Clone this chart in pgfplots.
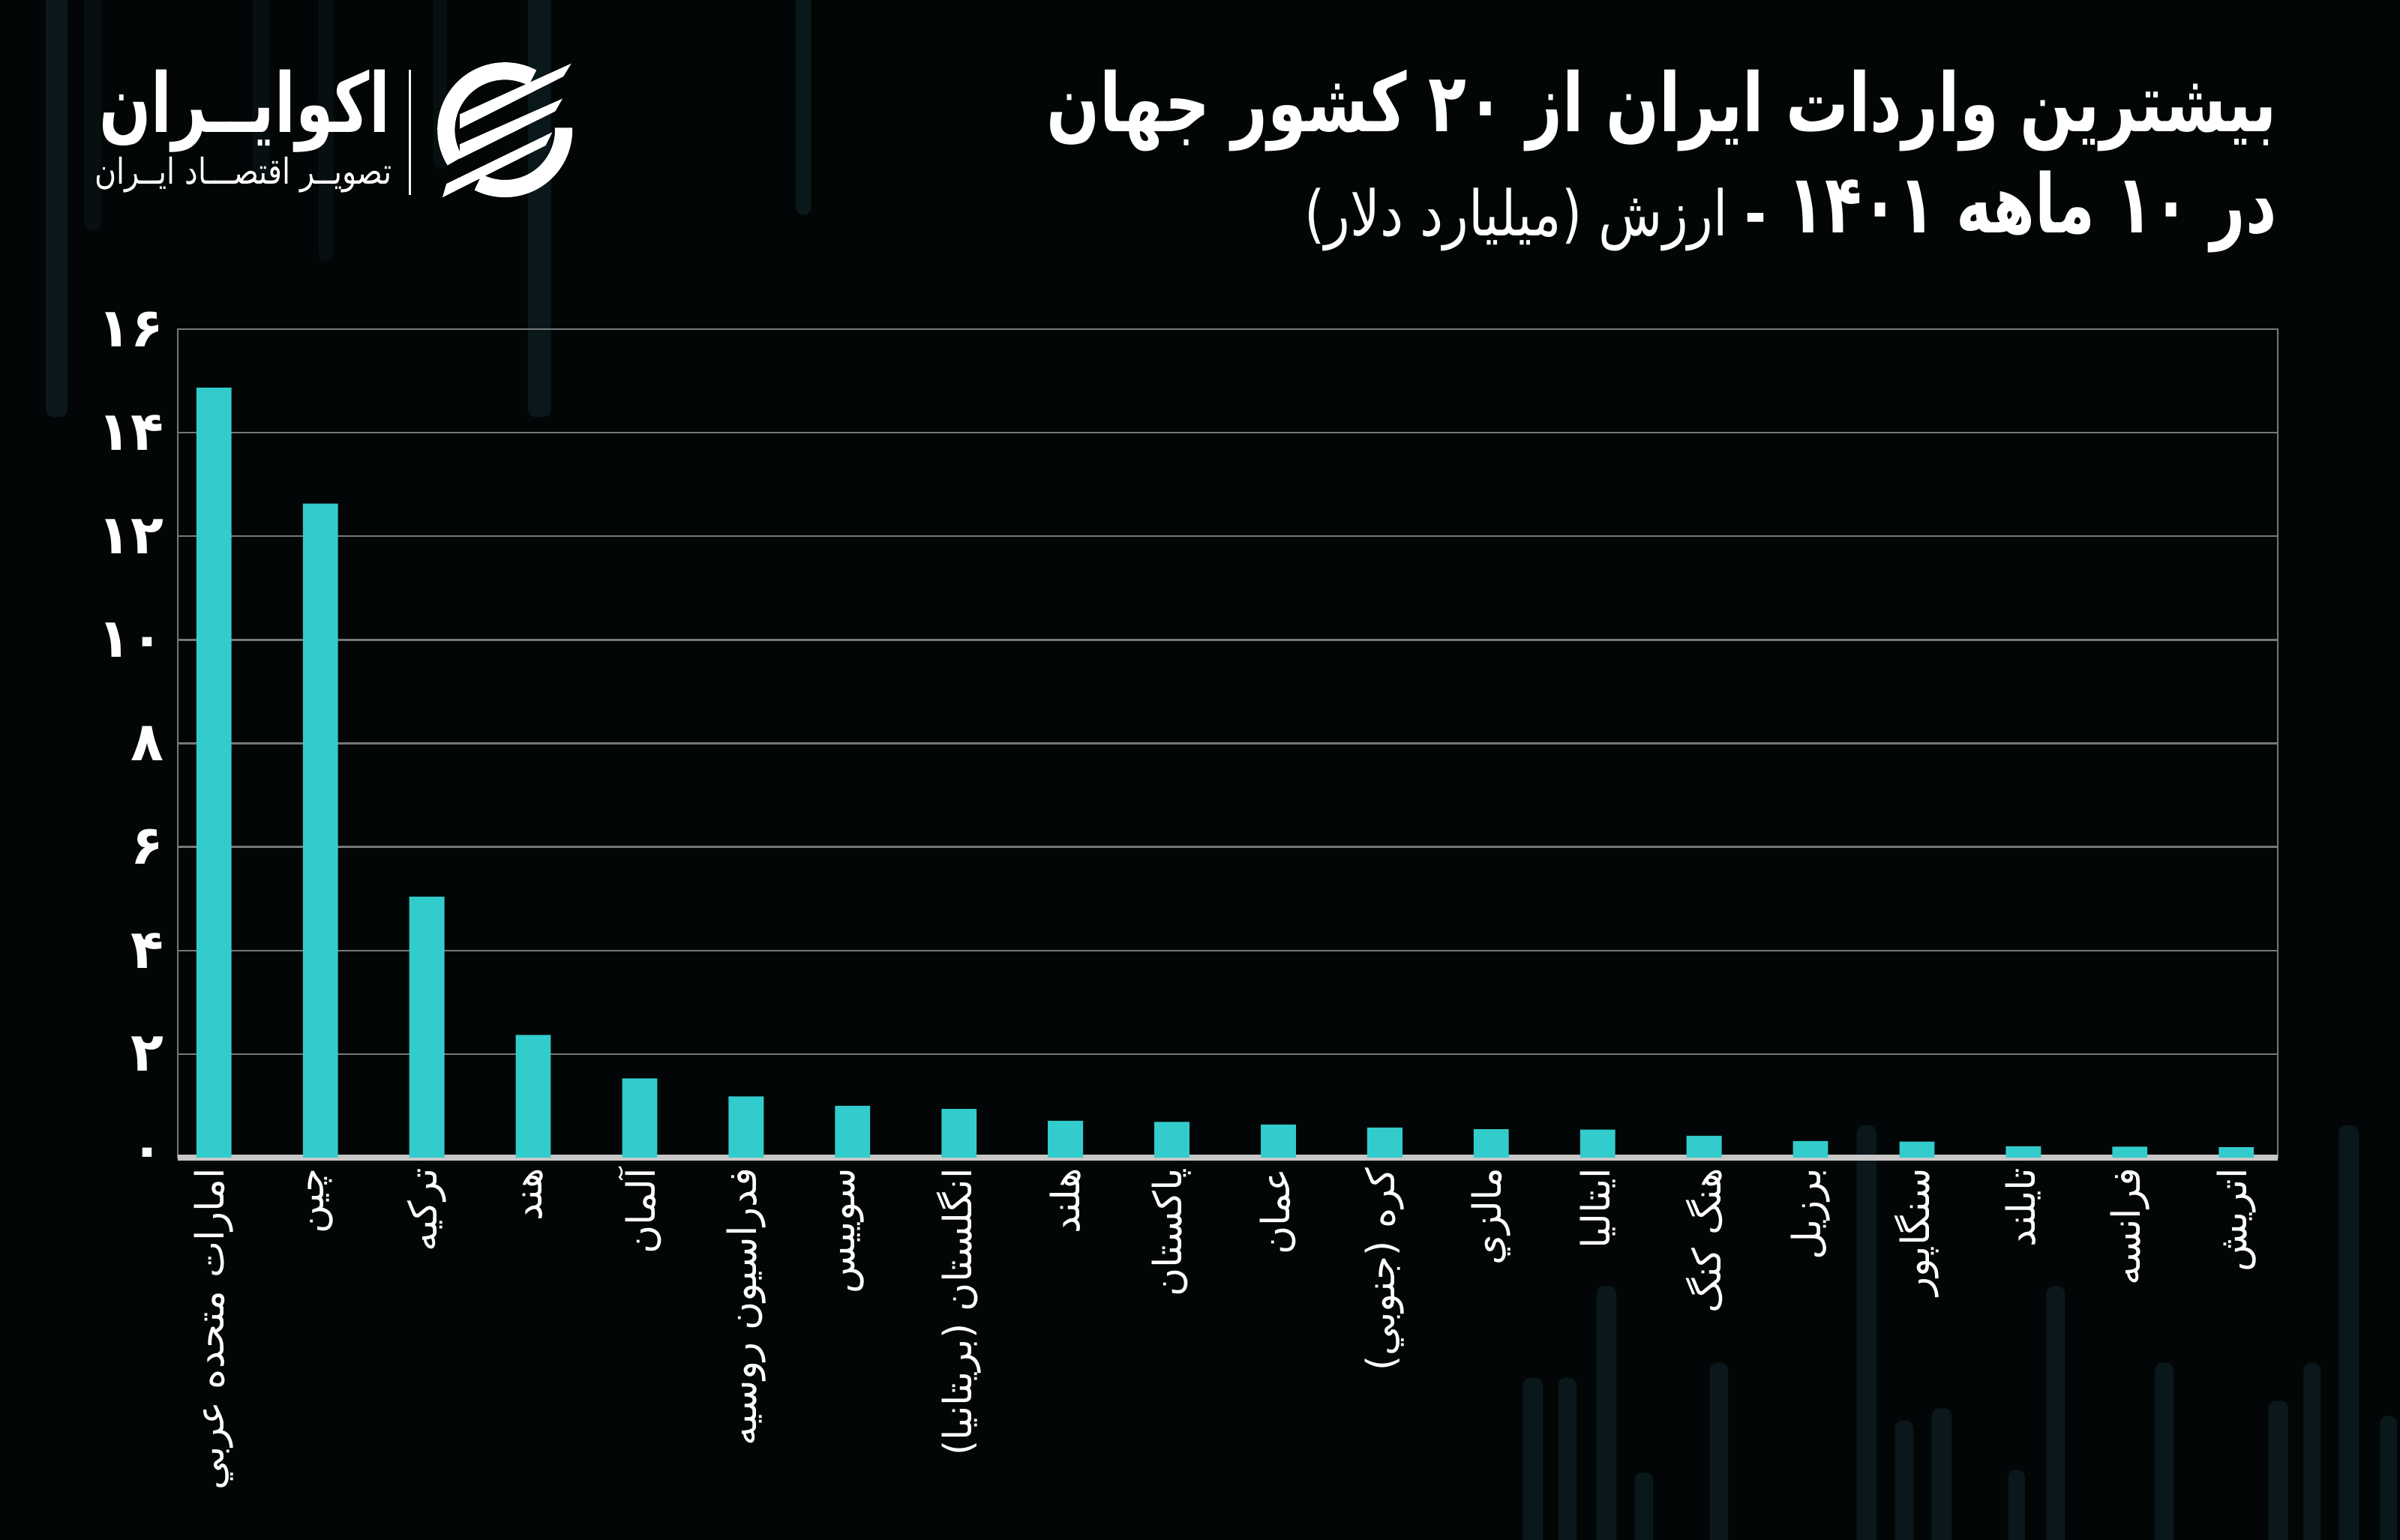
\documentclass[border=0pt]{standalone}
\usepackage{graphicx}
\usepackage{pgfplots}
\pgfplotsset{compat=1.18}
\usepackage{pgfplotstable}
\usepackage{fontspec}
\setmainfont{DejaVu Sans}
\newfontfamily\fa[Script=Arabic]{DejaVu Sans}
\TeXXeTstate=1
\definecolor{bg}{RGB}{3,6,6}
\definecolor{barc}{RGB}{51,204,204}
\definecolor{gridc}{RGB}{120,120,120}
\definecolor{basec}{RGB}{200,200,200}
\definecolor{ghost}{RGB}{10,24,27}
\definecolor{ghostdim}{RGB}{7,15,17}
\pgfplotstableread{
x v
0 14.87
1 12.63
2 5.04
3 2.37
4 1.53
5 1.18
6 1.00
7 0.94
8 0.71
9 0.69
10 0.64
11 0.58
12 0.55
13 0.54
14 0.42
15 0.32
16 0.31
17 0.22
18 0.21
19 0.20
}\imports
\begin{document}
\begin{tikzpicture}[x=1pt,y=1pt]
\fill[bg] (0,0) rectangle (800,513.5);
\path[use as bounding box] (0,0) rectangle (800,513.5);
% faint decorative background bars
\foreach \xa/\xb/\ya/\yb in {55/66/-5/150,165/176/-5/120,208/218/-5/170,283/292/-5/110}
  {\fill[ghostdim, rounded corners=2.5pt] ({\xa*0.5102},{(1006-\ya)*0.5102}) rectangle ({\xb*0.5102},{(1006-\yb)*0.5102});}
\foreach \xa/\xb/\ya/\yb in {30/44/-5/272,345/360/-5/272,520/530/-5/140,
  995/1008/900/1011,1018/1030/900/1011,1043/1056/840/1011,1068/1080/962/1011,
  1117/1129/890/1011,1213/1226/735/1011,1238/1250/928/1011,1262/1275/920/1011,
  1312/1323/960/1011,1337/1349/840/1011,1408/1420/890/1011,1482/1495/915/1011,
  1505/1516/890/1011,1528/1541/735/1011,1555/1566/925/1011}
  {\fill[ghost, rounded corners=2.5pt] ({\xa*0.5102},{(1006-\ya)*0.5102}) rectangle ({\xb*0.5102},{(1006-\yb)*0.5102});}
% titles
\node[anchor=east, inner sep=0, text=white] at (759.2,476.5)
  {\scalebox{1}[1.3]{\resizebox{410pt}{!}{\fa\bfseries\beginR بیشترین واردات ایران از \beginL۲۰\endL{} کشور جهان\endR}}};
\node[anchor=east, inner sep=0, text=white] at (759.2,442.9)
  {\scalebox{1}[1.35]{\resizebox{163pt}{!}{\fa\bfseries\beginR در \beginL۱۰\endL{} ماهه \beginL۱۴۰۱\endL\endR}}};
\node[anchor=east, inner sep=0, text=white] at (589,440.3)
  {\scalebox{1}[1.2]{\resizebox{154pt}{!}{\fa\beginR{\bfseries -}\ ارزش (میلیارد دلار)\endR}}};
% logo
\node[inner sep=0, text=white] at (81.6,476.5) {\scalebox{1}[1.35]{\resizebox{97pt}{!}{\fa\bfseries\beginR اکوایــران\endR}}};
\node[inner sep=0, text=white] at (81.1,455.1) {\scalebox{1}[1.2]{\resizebox{99pt}{!}{\fa\beginR تصویــر اقتصـــاد ایــران\endR}}};
\draw[white, line width=0.8pt] (136.7,448.5) -- (136.7,490.3);
\begin{scope}[shift={(168.3,470.2)}]
  \draw[white, line width=5.8pt] (62:19.6) arc (62:212:19.6);
  \draw[white, line width=5.8pt] (243:19.6) arc (243:362:19.6);
  \fill[white] (-15,0.4) -- (-15,5.2) -- (22.1,22.1) -- (19.5,17.8) -- cycle;
  \fill[white] (-15,-9.6) -- (-15,-4.8) -- (19.2,10.4) -- (16.8,6.2) -- cycle;
  \fill[white] (-20.8,-22.5) -- (-19.5,-18) -- (15.8,-0.8) -- (13.6,-5.2) -- cycle;
\end{scope}
\begin{axis}[
  at={(59.25pt,127.5pt)}, anchor=south west,
  width=700pt, height=276.25pt, scale only axis,
  xmin=-0.34, xmax=19.39, ymin=0, ymax=16,
  ytick={0,2,...,16},
  yticklabels={۰,۲,۴,۶,۸,۱۰,۱۲,۱۴,۱۶},
  xtick={0,...,19},
  xticklabels={{\beginR امارات متحده عربي\endR},{\beginR چین\endR},{\beginR ترکیه\endR},{\beginR هند\endR},{\beginR آلمان\endR},{\beginR فدراسیون روسیه\endR},{\beginR سوییس\endR},{\beginR انگلستان (بریتانیا)\endR},{\beginR هلند\endR},{\beginR پاکستان\endR},{\beginR عمان\endR},{\beginR کره (جنوبي)\endR},{\beginR مالزي\endR},{\beginR ایتالیا\endR},{\beginR هنگ کنگ\endR},{\beginR برزیل\endR},{\beginR سنگاپور\endR},{\beginR تایلند\endR},{\beginR فرانسه\endR},{\beginR اتریش\endR}},
  major tick length=0pt,
  ymajorgrids, grid style={draw=gridc, line width=0.6pt},
  axis line style={draw=gridc, line width=0.6pt},
  extra y ticks={0}, extra y tick labels={},
  extra y tick style={grid style={draw=basec, line width=2pt}},
  xticklabel style={rotate=90, anchor=east, text=white, font=\fa\fontsize{13}{13}\selectfont},
  yticklabel style={text=white, font=\fa\bfseries\fontsize{18}{18}\selectfont, xshift=-1pt},
  ybar, bar width=0.33,
]
\addplot[fill=barc, draw=none] table[x=x, y=v] {\imports};
\end{axis}
\end{tikzpicture}
\end{document}
